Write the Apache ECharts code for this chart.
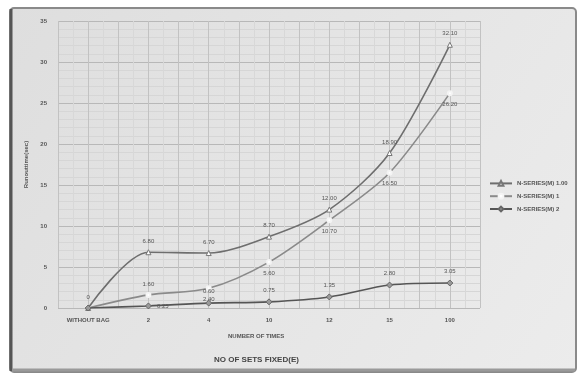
<!DOCTYPE html>
<html>
<head>
<meta charset="utf-8">
<script src="https://cdn.jsdelivr.net/npm/echarts@6/dist/echarts.min.js"></script>
<style>
  html, body { margin: 0; padding: 0; background: #ffffff; }
  #chart { width: 583px; height: 379px; }
</style>
</head>
<body>
<div id="chart"></div>
<script>
// Categories along the x axis (number of sets fixed)
const categories = ['WITHOUT BAG', '2', '4', '10', '12', '15', '100'];

// Run-out time for each configuration
const seriesNames = ['N-SERIES(M) 1.00', 'N-SERIES(M) 1', 'N-SERIES(M) 2'];
const valuesA = [0, 6.8, 6.7, 8.7, 12.0, 18.9, 32.1];
const valuesB = [0, 1.6, 2.4, 5.6, 10.7, 16.5, 26.2];
const valuesC = [0, 0.25, 0.6, 0.75, 1.35, 2.8, 3.05];

// Y axis tick values
const yTicks = [0, 5, 10, 15, 20, 25, 30, 35];

const chart = echarts.init(document.getElementById('chart'), null, { renderer: 'canvas' });

const textCol = '#555';
const font = 'Liberation Sans';

function makeData(values, pos, showFirst, firstPos) {
  return values.map((v, i) => ({
    value: v,
    label: { show: i > 0 || showFirst, position: i === 1 && firstPos ? firstPos : pos }
  }));
}

const option = {
  backgroundColor: '#ffffff',
  animation: false,
  graphic: [
    {
      type: 'rect', z: -10, silent: true,
      shape: { x: 10, y: 8, width: 566, height: 364, r: 4 },
      style: {
        fill: new echarts.graphic.LinearGradient(0, 0, 1, 1, [
          { offset: 0, color: '#dedede' },
          { offset: 1, color: '#ececec' }
        ]),
        stroke: '#8a8a8a', lineWidth: 2
      }
    },
    {
      type: 'line', z: -9, silent: true,
      shape: { x1: 11, y1: 9, x2: 11, y2: 371 },
      style: { stroke: '#555', lineWidth: 3 }
    },
    {
      type: 'line', z: -9, silent: true,
      shape: { x1: 12, y1: 370, x2: 575, y2: 370 },
      style: { stroke: '#9a9a9a', lineWidth: 3 }
    },
    {
      type: 'text', left: 228, top: 333, silent: true,
      style: { text: 'NUMBER OF TIMES', fill: textCol, font: 'bold 6px "Liberation Sans"' }
    },
    {
      type: 'text', left: 214, top: 356, silent: true,
      style: { text: 'NO OF SETS FIXED(E)', fill: '#444', font: 'bold 8px "Liberation Sans"' }
    }
  ],
  grid: { left: 58, right: 103, top: 21, bottom: 71 },
  legend: {
    orient: 'vertical',
    left: 484, top: 175,
    itemWidth: 22, itemHeight: 6, itemGap: 6,
    textStyle: { fontSize: 6, color: textCol, fontFamily: font, fontWeight: 'bold' },
    data: seriesNames
  },
  xAxis: [
    {
      type: 'category',
      data: categories,
      boundaryGap: true,
      axisLine: { show: false },
      axisTick: { show: false },
      axisLabel: { fontSize: 6, color: textCol, fontFamily: font, fontWeight: 'bold', margin: 9 },
      splitLine: { show: false }
    },
    {
      type: 'value', min: 0, max: 14, interval: 1,
      show: true,
      axisLine: { show: false }, axisTick: { show: false }, axisLabel: { show: false },
      splitLine: { show: true, lineStyle: { color: '#c2c2c2', width: 1 } },
      minorTick: { show: false, splitNumber: 2 },
      minorSplitLine: { show: true, lineStyle: { color: '#d8d8d8', width: 1 } }
    }
  ],
  yAxis: {
    type: 'value',
    min: yTicks[0], max: yTicks[yTicks.length - 1], interval: 5,
    name: 'Runouttime(sec)',
    nameLocation: 'middle', nameGap: 28, nameRotate: 90,
    nameTextStyle: { fontSize: 6, color: textCol, fontFamily: font, fontWeight: 'bold' },
    axisLine: { show: false },
    axisTick: { show: false },
    axisLabel: { fontSize: 6, color: textCol, fontFamily: font, fontWeight: 'bold', margin: 11 },
    splitLine: { show: true, lineStyle: { color: '#b8b8b8', width: 1 } },
    minorTick: { show: false, splitNumber: 5 },
    minorSplitLine: { show: true, lineStyle: { color: '#d6d6d6', width: 1 } }
  },
  series: [
    {
      name: seriesNames[0], type: 'line', smooth: 0.3,
      data: makeData(valuesA, 'top', true),
      symbol: 'triangle', symbolSize: 5,
      itemStyle: { color: '#ffffff', borderColor: '#777', borderWidth: 1 },
      lineStyle: { color: '#6e6e6e', width: 1.6 },
      label: { fontSize: 6, color: textCol, fontFamily: font, formatter: p => p.value === 0 ? '0' : p.value.toFixed(2) },
      z: 4
    },
    {
      name: seriesNames[1], type: 'line', smooth: 0.3,
      data: makeData(valuesB, 'bottom', false, 'top'),
      symbol: 'emptyCircle', symbolSize: 4,
      itemStyle: { color: '#f4f4f4', borderColor: '#888', borderWidth: 1 },
      lineStyle: { color: '#8a8a8a', width: 1.6 },
      label: { fontSize: 6, color: textCol, fontFamily: font, formatter: p => p.value.toFixed(2) },
      z: 3
    },
    {
      name: seriesNames[2], type: 'line', smooth: 0.3,
      data: makeData(valuesC, 'top', false, 'right'),
      symbol: 'diamond', symbolSize: 6,
      itemStyle: { color: '#9a9a9a', borderColor: '#666', borderWidth: 1 },
      lineStyle: { color: '#555', width: 1.6 },
      label: { fontSize: 6, color: textCol, fontFamily: font, formatter: p => p.value.toFixed(2) },
      z: 5
    }
  ]
};

chart.setOption(option);
</script>
</body>
</html>
